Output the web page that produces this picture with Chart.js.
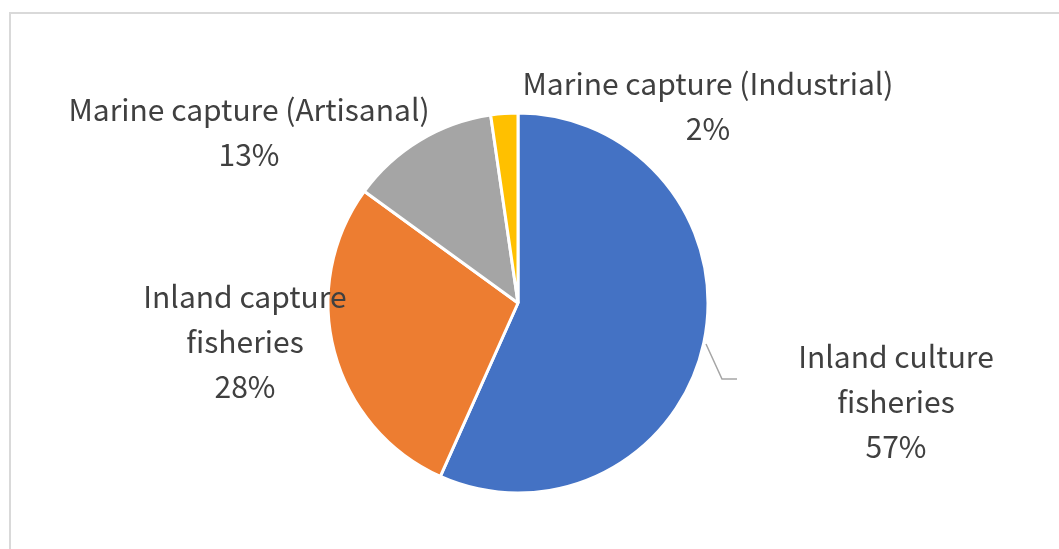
<!DOCTYPE html>
<html>
<head>
<meta charset="utf-8">
<script src="https://cdn.jsdelivr.net/npm/chart.js@4.4.1/dist/chart.umd.min.js"></script>
<style>
  html, body { margin: 0; padding: 0; background: #fff; overflow: hidden; }
  #wrap { position: relative; width: 1059px; height: 549px; }
  #frame { position: absolute; left: 9px; top: 12px; width: 1200px; height: 700px; border: 2px solid #d9d9d9; }
  canvas { position: absolute; left: 0; top: 0; }
</style>
</head>
<body>
<div id="wrap">
  <div id="frame"></div>
  <canvas id="pie" width="1059" height="549"></canvas>
</div>
<script>
// data (clockwise from 12 o'clock)
const categories = ['Inland culture fisheries', 'Inland capture fisheries', 'Marine capture (Artisanal)', 'Marine capture (Industrial)']
const shares = [56.7, 28.3, 12.7, 2.3]
const shareLabels = ['57%', '28%', '13%', '2%']
const labelLines = [
    ['Inland culture', 'fisheries'],
    ['Inland capture', 'fisheries'],
    ['Marine capture (Artisanal)'],
    ['Marine capture (Industrial)']
]
const colors = ['#4472C4', '#ED7D31', '#A5A5A5', '#FFC000']

// label centres relative to pie centre (x, y of first line)
const labelPos = [[378, 54], [-273, -6], [-269, -193], [190, -219]]
const lineGap = 45

const labelPlugin = {
    id: 'pieLabels',
    afterDatasetsDraw(chart){
        const arc = chart.getDatasetMeta(0).data[0]
        const cx = arc.x, cy = arc.y
        const ctx = chart.ctx
        ctx.save()

        // leader line for the big slice
        ctx.strokeStyle = '#a6a6a6'
        ctx.lineWidth = 1.5
        ctx.beginPath()
        ctx.moveTo(cx + 188, cy + 41)
        ctx.lineTo(cx + 204, cy + 76)
        ctx.lineTo(cx + 219, cy + 76)
        ctx.stroke()

        ctx.fillStyle = '#404040'
        ctx.font = '30px "Noto Sans CJK JP", "Noto Sans", sans-serif'
        ctx.textAlign = 'center'
        ctx.textBaseline = 'middle'
        labelLines.forEach(function(lines, i){
            const all = lines.concat([shareLabels[i]])
            all.forEach(function(t, j){
                ctx.fillText(t, cx + labelPos[i][0], cy + labelPos[i][1] + j * lineGap)
            })
        })
        ctx.restore()
    }
}

const config = {
    type: 'pie',
    data: {
        labels: categories,
        datasets: [{
            data: shares,
            backgroundColor: colors,
            borderColor: '#ffffff',
            borderWidth: 3
        }]
    },
    options: {
        responsive: false,
        animation: false,
        layout: {
            padding: { left: 326.5, right: 349.5, top: 111.5, bottom: 54.5 }
        },
        plugins: {
            legend: { display: false },
            tooltip: { enabled: false }
        }
    },
    plugins: [labelPlugin]
}

const chart = new Chart(document.getElementById('pie'), config)
</script>
</body>
</html>
